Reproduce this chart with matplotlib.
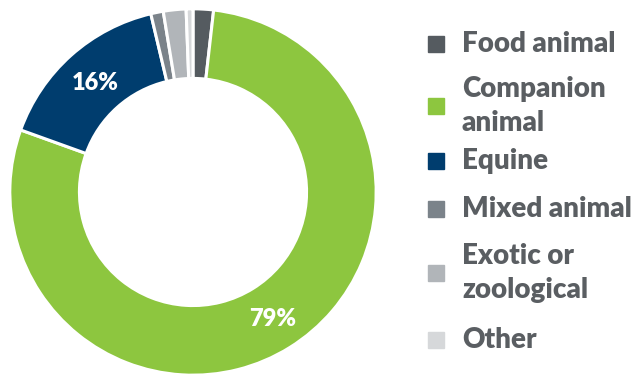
import numpy as np
import matplotlib.pyplot as plt
from matplotlib.patches import Rectangle

categories = ["Food animal", "Companion\nanimal", "Equine", "Mixed animal",
              "Exotic or\nzoological", "Other"]
shares = [1.8, 78.7, 15.8, 1.1, 2.0, 0.6]
shown_labels = {1: "79%", 2: "16%"}
colors = ["#555b60", "#8dc63f", "#003d6e", "#7b838a", "#b1b5b9", "#d6d8da"]

plt.rcParams['font.family'] = ['Lato', 'DejaVu Sans']

fig = plt.figure(figsize=(6.34, 3.77), dpi=100)
ax = fig.add_axes([8 / 634, -1 / 377, 370 / 634, 372 / 377])

wedges, _ = ax.pie(shares, colors=colors, startangle=90, counterclock=False,
                   radius=1.0,
                   wedgeprops=dict(width=0.38, edgecolor="white", linewidth=2.2))
ax.set_xlim(-1.01, 1.01)
ax.set_ylim(-1.01, 1.01)
ax.set_aspect("equal")

# percentage labels on the two big slices
label_pos = {1: (-58, 0.82), 2: (132, 0.80)}
for i, txt in shown_labels.items():
    deg, r = label_pos[i]
    ang = np.deg2rad(deg)
    ax.text(r * np.cos(ang), r * np.sin(ang), txt, color="white",
            fontsize=17, fontweight="heavy", ha="center", va="center")

# legend drawn by hand on the right
ys = [44, 106, 161, 209, 273, 340]
for name, col, y in zip(categories, colors, ys):
    yf = 1 - y / 377
    fig.patches.append(Rectangle((428 / 634, yf - 8 / 377), 16 / 634, 16 / 377,
                                 transform=fig.transFigure, color=col))
    fig.text(462 / 634, yf, name, color="#5a5e62", fontsize=20,
             fontweight="heavy", ha="left", va="center", linespacing=1.38)

fig.savefig("out.png", dpi=100)
